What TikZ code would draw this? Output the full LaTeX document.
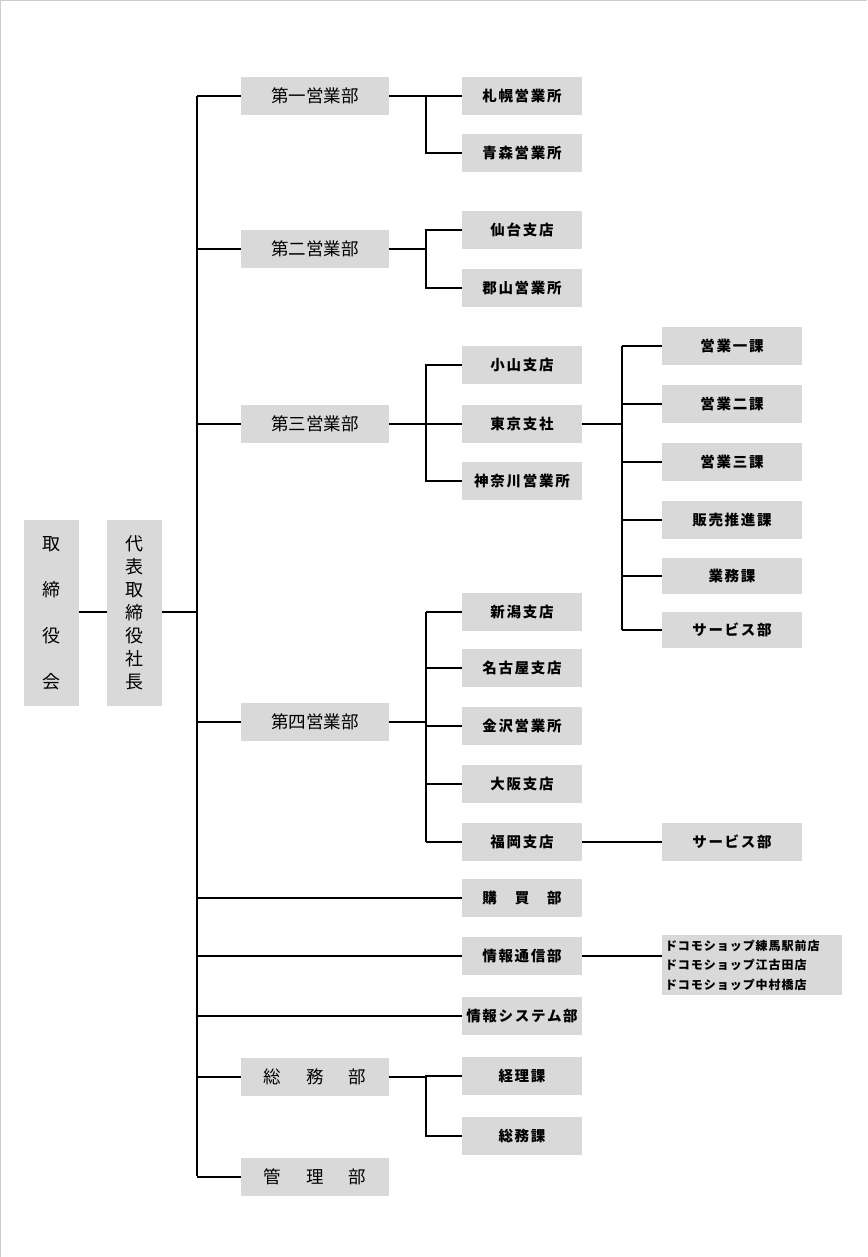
\documentclass[tikz,border=0pt]{standalone}
\usepackage{fontspec}
\setmainfont{Noto Sans CJK JP}
\newfontfamily\spcdfont[LetterSpace=12]{Noto Sans CJK JP}
\newfontfamily\spcdsmall[LetterSpace=8]{Noto Sans CJK JP}
\begin{document}
\begin{tikzpicture}[x=1pt,y=-1pt,
  every node/.style={inner sep=0pt, outer sep=0pt},
  base/.style={fill=boxgray, align=center},
  lvA/.style={base, minimum width=148pt, minimum height=38pt, font=\fontsize{17.5}{20}\selectfont},
  lvB/.style={base, minimum width=120pt, minimum height=38pt, font=\spcdfont\fontsize{14.5}{18}\selectfont\bfseries},
  lvC/.style={base, minimum width=140pt, minimum height=38pt, font=\spcdfont\fontsize{14.5}{18}\selectfont\bfseries},
  vert/.style={base, minimum width=55pt, minimum height=186pt, font=\fontsize{18}{23}\selectfont},
  conn/.style={draw=black, line width=2pt}]
\definecolor{boxgray}{HTML}{D9D9D9}
\definecolor{framegray}{HTML}{CCCCCC}
\useasboundingbox (0,0) rectangle (867,1257);
\draw[framegray, line width=1pt] (0.5,1257) -- (0.5,0.5) -- (867,0.5);

% left boxes
\node[vert] (board) at (51,613) {取\\[23pt]締\\[23pt]役\\[23pt]会};
\node[vert] (pres) at (134.5,613) {代\\表\\取\\締\\役\\社\\長};

% trunk coordinates
\coordinate (tTop) at (197,96);
\coordinate (tBot) at (197,1176);
\coordinate (jA) at (426,0);
\coordinate (jB) at (622,0);

% level 1
\node[lvA] (d1) at (315,96) {第一営業部};
\node[lvA] (d2) at (315,249) {第二営業部};
\node[lvA] (d3) at (315,424) {第三営業部};
\node[lvA] (d4) at (315,722) {第四営業部};
\node[lvA] (gen) at (315,1077) {総\hspace{25pt}務\hspace{25pt}部};
\node[lvA] (kan) at (315,1177) {管\hspace{25pt}理\hspace{25pt}部};

% level 2
\node[lvB] (sapporo) at (522,96) {札幌営業所};
\node[lvB] (aomori) at (522,153) {青森営業所};
\node[lvB] (sendai) at (522,230) {仙台支店};
\node[lvB] (koriyama) at (522,288) {郡山営業所};
\node[lvB] (oyama) at (522,365) {小山支店};
\node[lvB] (tokyo) at (522,424) {東京支社};
\node[lvB] (kanagawa) at (522,481) {神奈川営業所};
\node[lvB] (niigata) at (522,612) {新潟支店};
\node[lvB] (nagoya) at (522,668) {名古屋支店};
\node[lvB] (kanazawa) at (522,726) {金沢営業所};
\node[lvB] (osaka) at (522,784) {大阪支店};
\node[lvB] (fukuoka) at (522,842) {福岡支店};
\node[lvB] (kobai) at (522,898) {購\hspace{18pt}買\hspace{18pt}部};
\node[lvB] (joho) at (522,956) {情報通信部};
\node[lvB] (josys) at (522,1016) {情報システム部};
\node[lvB] (keiri) at (522,1076) {経理課};
\node[lvB] (somuka) at (522,1136) {総務課};

% level 3
\node[lvC] (e1) at (732,346) {営業一課};
\node[lvC] (e2) at (732,404) {営業二課};
\node[lvC] (e3) at (732,462) {営業三課};
\node[lvC] (hanbai) at (732,520) {販売推進課};
\node[lvC, minimum height=36pt] (gyomu) at (732,576) {業務課};
\node[lvC, minimum height=36pt] (serv1) at (732,630) {サービス部};
\node[lvC] (serv2) at (732,842) {サービス部};
\node[base, minimum width=180pt, minimum height=60pt, align=left, font=\spcdsmall\fontsize{12}{19.5}\selectfont\bfseries] (docomo) at (752,965)
  {\makebox[174pt][l]{ドコモショップ練馬駅前店}\\\makebox[174pt][l]{ドコモショップ江古田店}\\\makebox[174pt][l]{ドコモショップ中村橋店}};

% connectors
\draw[conn] (board.east |- 0,612) -- (pres.west |- 0,612);
\draw[conn] (pres.east |- 0,612) -- (tTop |- 0,612);
\draw[conn] (tTop) -- (tBot);
\foreach \n in {d1,d2,d3,d4,gen,kan}{
  \draw[conn] (\n.west -| tTop) -- (\n.west);
}
\foreach \n in {kobai,joho,josys}{
  \draw[conn] (\n.west -| tTop) -- (\n.west);
}
% group 1
\draw[conn] (d1.east) -- (sapporo.west);
\draw[conn] (d1.east -| jA) |- (aomori.west);
% group 2
\draw[conn] (d2.east) -- (d2.east -| jA);
\draw[conn] (sendai.west) -- (sendai.west -| jA) -- (koriyama.west -| jA) -- (koriyama.west);
% group 3
\draw[conn] (d3.east) -- (tokyo.west);
\draw[conn] (oyama.west) -- (oyama.west -| jA) -- (kanagawa.west -| jA) -- (kanagawa.west);
\draw[conn] (tokyo.east) -- (tokyo.east -| jB);
\draw[conn] (e1.west -| jB) -- (serv1.west -| jB);
\foreach \n in {e1,e2,e3,hanbai,gyomu,serv1}{
  \draw[conn] (\n.west -| jB) -- (\n.west);
}
% group 4
\draw[conn] (d4.east) -- (d4.east -| jA);
\draw[conn] (niigata.west -| jA) -- (fukuoka.west -| jA);
\foreach \n in {niigata,nagoya,kanazawa,osaka,fukuoka}{
  \draw[conn] (\n.west -| jA) -- (\n.west);
}
\draw[conn] (fukuoka.east) -- (serv2.west);
\draw[conn] (joho.east) -- (docomo.west |- joho.east);
% general affairs
\draw[conn] (gen.east) -- (gen.east -| jA);
\draw[conn] (keiri.west) -- (keiri.west -| jA) -- (somuka.west -| jA) -- (somuka.west);
\end{tikzpicture}
\end{document}
